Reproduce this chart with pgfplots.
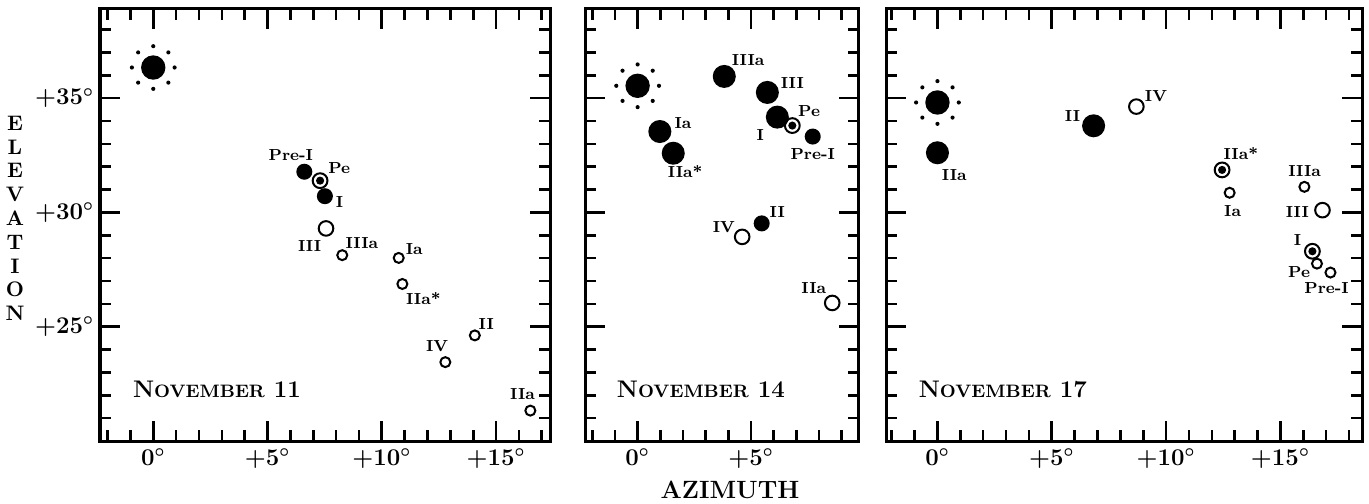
\documentclass[border=0pt]{standalone}
\usepackage{pgfplots}
\pgfplotsset{compat=1.18}

\pgfdeclareplotmark{odot}{%
  \pgfpathcircle{\pgfpointorigin}{\pgfplotmarksize}\pgfusepathqstroke
  \pgfpathcircle{\pgfpointorigin}{0.55\pgfplotmarksize}\pgfusepathqfill}
\pgfdeclareplotmark{sun}{%
  \pgfpathcircle{\pgfpointorigin}{\pgfplotmarksize}\pgfusepathqfill
  \pgfpathcircle{\pgfpointpolar{0}{1.75\pgfplotmarksize}}{0.17\pgfplotmarksize}%
  \pgfpathcircle{\pgfpointpolar{45}{1.75\pgfplotmarksize}}{0.17\pgfplotmarksize}%
  \pgfpathcircle{\pgfpointpolar{90}{1.75\pgfplotmarksize}}{0.17\pgfplotmarksize}%
  \pgfpathcircle{\pgfpointpolar{135}{1.75\pgfplotmarksize}}{0.17\pgfplotmarksize}%
  \pgfpathcircle{\pgfpointpolar{180}{1.75\pgfplotmarksize}}{0.17\pgfplotmarksize}%
  \pgfpathcircle{\pgfpointpolar{225}{1.75\pgfplotmarksize}}{0.17\pgfplotmarksize}%
  \pgfpathcircle{\pgfpointpolar{270}{1.75\pgfplotmarksize}}{0.17\pgfplotmarksize}%
  \pgfpathcircle{\pgfpointpolar{315}{1.75\pgfplotmarksize}}{0.17\pgfplotmarksize}%
  \pgfusepathqfill}

\pgfplotsset{
  panel/.style={scale only axis, height=216pt, ymin=20, ymax=38.9,
    axis line style={line width=1.5pt}, tick align=inside,
    major tick length=10pt, minor tick length=5.5pt,
    tick style={black, line width=1.3pt},
    ytick={25,30,35}, minor ytick={21,...,38},
    ticklabel style={font=\boldmath\bfseries\fontsize{12}{14}\selectfont},
    xticklabel style={yshift=-0.5pt},
    yticklabel style={xshift=0.5pt},
    clip=false},
  sunm/.style={only marks, mark=sun, mark size=6.1pt, black},
  bigf/.style={only marks, mark=*, mark size=5.25pt, black, line width=1pt},
  medf/.style={only marks, mark=*, mark size=3.5pt, black, line width=1pt},
  medo/.style={only marks, mark=o, mark size=3.65pt, black, line width=1pt},
  smo/.style={only marks, mark=o, mark size=2.5pt, black, line width=1pt},
  odm/.style={only marks, mark=odot, mark size=3.7pt, black, line width=1pt},
}
\tikzset{lab/.style={font=\bfseries\fontsize{8}{9}\selectfont, inner sep=0pt},
  nov/.style={anchor=base west, inner sep=0pt, font=\bfseries}}
\newcommand{\nov}[1]{{\fontsize{12}{14}\selectfont N{\fontsize{9}{10}\selectfont OVEMBER} #1}}

\begin{document}
\begin{tikzpicture}
\useasboundingbox (0,0) rectangle (684.5pt,251.5pt);

% ---------------- November 11
\begin{axis}[panel, at={(50pt,31pt)}, anchor=south west, width=225pt,
  xmin=-2.33, xmax=17.36, xtick={0,5,10,15}, minor xtick={-2,...,17},
  xticklabels={$0^\circ$,$+5^\circ$,$+10^\circ$,$+15^\circ$},
  yticklabels={$+25^\circ$,$+30^\circ$,$+35^\circ$}]
\addplot[sunm] coordinates {(0,36.34)};
\addplot[medf] coordinates {(6.61,31.78) (7.51,30.71)};
\addplot[odm] coordinates {(7.30,31.39)};
\addplot[medo] coordinates {(7.56,29.30)};
\addplot[smo] coordinates {(8.27,28.13) (10.74,28.01) (10.90,26.87) (14.07,24.62) (12.78,23.45) (16.50,21.33)};
\node[lab] at (axis cs:6.02,32.53) {Pre-I};
\node[lab] at (axis cs:8.14,31.96) {Pe};
\node[lab] at (axis cs:8.15,30.45) {I};
\node[lab] at (axis cs:6.84,28.55) {III};
\node[lab] at (axis cs:9.13,28.66) {IIIa};
\node[lab] at (axis cs:11.42,28.40) {Ia};
\node[lab] at (axis cs:11.82,26.23) {IIa*};
\node[lab] at (axis cs:14.57,25.11) {II};
\node[lab] at (axis cs:12.42,24.14) {IV};
\node[lab] at (axis cs:16.16,22.04) {IIa};
\node[nov] at (axis cs:-0.9,21.9) {\nov{11}};
\end{axis}

% ---------------- November 14
\begin{axis}[panel, at={(292.5pt,31pt)}, anchor=south west, width=137pt,
  xmin=-2.32, xmax=9.76, xtick={0,5}, minor xtick={-2,...,9},
  xticklabels={$0^\circ$,$+5^\circ$}, yticklabels={}]
\addplot[sunm] coordinates {(0,35.54)};
\addplot[bigf] coordinates {(3.82,35.95) (5.72,35.25) (6.16,34.17) (0.98,33.54) (1.57,32.59)};
\addplot[odm] coordinates {(6.82,33.80)};
\addplot[medf] coordinates {(7.72,33.32) (5.47,29.52)};
\addplot[medo] coordinates {(4.61,28.93) (8.58,26.04)};
\node[lab] at (axis cs:4.87,36.66) {IIIa};
\node[lab] at (axis cs:6.82,35.68) {III};
\node[lab] at (axis cs:5.41,33.40) {I};
\node[lab] at (axis cs:7.56,34.45) {Pe};
\node[lab] at (axis cs:7.72,32.57) {Pre-I};
\node[lab] at (axis cs:2.00,33.93) {Ia};
\node[lab] at (axis cs:2.10,31.78) {IIa*};
\node[lab] at (axis cs:6.16,30.04) {II};
\node[lab] at (axis cs:3.80,29.35) {IV};
\node[lab] at (axis cs:7.77,26.67) {IIa};
\node[nov] at (axis cs:-0.93,21.9) {\nov{14}};
\end{axis}

% ---------------- November 17
\begin{axis}[panel, at={(443pt,31pt)}, anchor=south west, width=238pt,
  xmin=-2.25, xmax=18.57, xtick={0,5,10,15}, minor xtick={-2,...,18},
  xticklabels={$0^\circ$,$+5^\circ$,$+10^\circ$,$+15^\circ$}, yticklabels={}]
\addplot[sunm] coordinates {(0,34.81)};
\addplot[bigf] coordinates {(0,32.61) (6.83,33.79)};
\addplot[medo] coordinates {(8.70,34.63) (16.84,30.10)};
\addplot[odm] coordinates {(12.45,31.86) (16.40,28.30)};
\addplot[smo] coordinates {(12.78,30.86) (16.05,31.12) (16.60,27.76) (17.19,27.37)};
\node[lab] at (axis cs:0.74,31.65) {IIa};
\node[lab] at (axis cs:5.91,34.21) {II};
\node[lab] at (axis cs:9.56,35.09) {IV};
\node[lab] at (axis cs:13.27,32.56) {IIa*};
\node[lab] at (axis cs:12.91,30.05) {Ia};
\node[lab] at (axis cs:16.06,31.80) {IIIa};
\node[lab] at (axis cs:15.74,30.01) {III};
\node[lab] at (axis cs:15.75,28.80) {I};
\node[lab] at (axis cs:15.82,27.41) {Pe};
\node[lab] at (axis cs:17.02,26.71) {Pre-I};
\node[nov] at (axis cs:-0.83,21.9) {\nov{17}};
\end{axis}

\node[align=center, font=\bfseries\fontsize{10.5}{11.9}\selectfont, inner sep=0pt] at (7.5pt,142.3pt) {E\\L\\E\\V\\A\\T\\I\\O\\N};
\node[font=\bfseries\fontsize{12.5}{14}\selectfont, inner sep=0pt] at (365pt,6.8pt) {AZIMUTH};
\end{tikzpicture}
\end{document}
